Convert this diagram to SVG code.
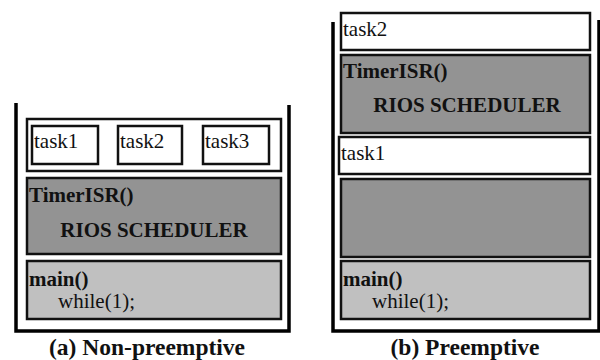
<svg xmlns="http://www.w3.org/2000/svg" width="600" height="360" viewBox="0 0 600 360" font-family="Liberation Serif, Times New Roman, DejaVu Serif, serif">
<style>
text{font-family:'Liberation Serif','Times New Roman','DejaVu Serif',serif;font-size:21px;fill:#111}
.b{font-weight:bold}
.c{text-anchor:middle}
.box{stroke:#111;stroke-width:2.5}
.w{fill:#fff}
.g{fill:#939393}
.l{fill:#c0c0c0}
.cont{fill:none;stroke:#000;stroke-width:3.5}
.cap{font-size:23.5px;font-weight:bold;text-anchor:middle}
</style>
<rect width="600" height="360" fill="#fff"/>
<g id="containers">
<path class="cont" d="M16,103 V331 H289 V105"/>
<path class="cont" d="M333,22 V331 H599 V20"/>
</g>
<g id="left">
<g id="a-tasks"><rect class="box w" x="27" y="119" width="254" height="52"/></g>
<g id="a-task1"><rect class="box w" x="32" y="126" width="66" height="38"/><text x="34" y="148">task1</text></g>
<g id="a-task2"><rect class="box w" x="118" y="126" width="64" height="38"/><text x="120" y="148">task2</text></g>
<g id="a-task3"><rect class="box w" x="203" y="126" width="66" height="38"/><text x="205" y="148">task3</text></g>
<g id="a-timer"><rect class="box g" x="27" y="178" width="254" height="76"/><text class="b" x="29" y="202">TimerISR()</text><text class="b c" x="154" y="237">RIOS SCHEDULER</text></g>
<g id="a-main"><rect class="box l" x="27" y="261" width="254" height="58"/><text class="b" x="29" y="286">main()</text><text x="58" y="308">while(1);</text></g>
</g>
<g id="right">
<g id="b-task2"><rect class="box w" x="341" y="13" width="249" height="37"/><text x="343" y="36">task2</text></g>
<g id="b-timer"><rect class="box g" x="341" y="55" width="249" height="78"/><text class="b" x="343" y="78">TimerISR()</text><text class="b c" x="467" y="112">RIOS SCHEDULER</text></g>
<g id="b-task1"><rect class="box w" x="339" y="137" width="251" height="37"/><text x="341" y="160">task1</text></g>
<g id="b-empty"><rect class="box g" x="341" y="179" width="249" height="78"/></g>
<g id="b-main"><rect class="box l" x="341" y="261" width="249" height="58"/><text class="b" x="343" y="286">main()</text><text x="372" y="308">while(1);</text></g>
</g>
<g id="captions">
<text class="cap" x="147" y="355">(a) Non-preemptive</text>
<text class="cap" x="465" y="355">(b) Preemptive</text>
</g>
<g id="connectors"></g>
</svg>
